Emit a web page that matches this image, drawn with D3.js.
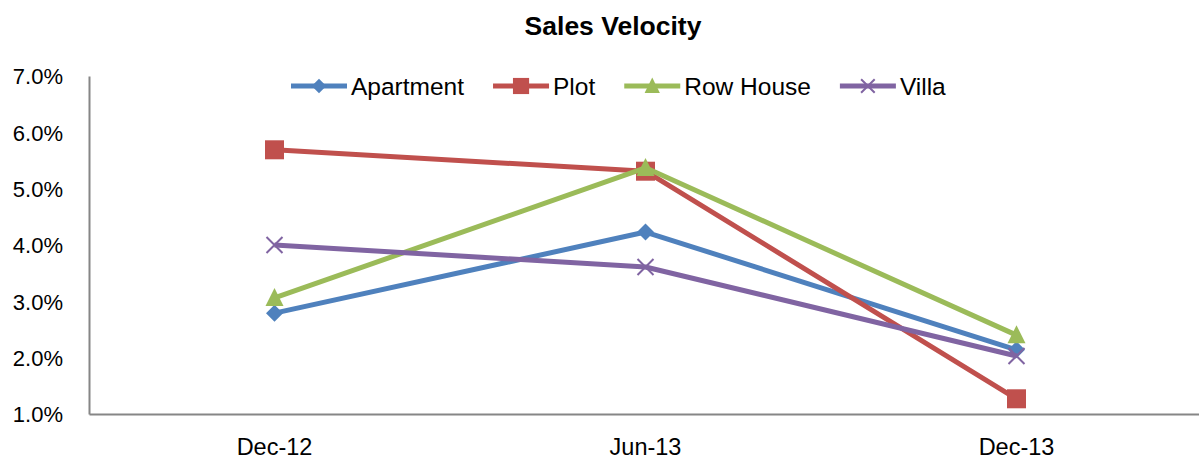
<!DOCTYPE html>
<html><head><meta charset="utf-8">
<script src="https://cdn.jsdelivr.net/npm/d3@7"></script>
<style>body{margin:0;background:#fff}svg{display:block}text{font-family:"Liberation Sans",Arial,sans-serif;fill:#000}</style>
</head><body><svg id="c" width="1199" height="461"></svg>
<script>
const categories = ["Dec-12", "Jun-13", "Dec-13"];
const apartment = [2.79, 4.23, 2.14];
const plot = [5.69, 5.31, 1.27];
const rowHouse = [3.06, 5.37, 2.40];
const villa = [4.00, 3.61, 2.03];
const seriesNames = ["Apartment", "Plot", "Row House", "Villa"];
const yTicks = [1, 2, 3, 4, 5, 6, 7];
const title = "Sales Velocity";

const series = [
  {name: seriesNames[0], values: apartment, color: "#4F81BD", marker: "diamond"},
  {name: seriesNames[1], values: plot, color: "#C0504D", marker: "square"},
  {name: seriesNames[2], values: rowHouse, color: "#9BBB59", marker: "triangle"},
  {name: seriesNames[3], values: villa, color: "#8064A2", marker: "x"}
];

const svg = d3.select("#c");
const x = d3.scaleBand().domain(categories).range([89, 1202]);
const y = d3.scaleLinear().domain([1, 7]).range([414, 76]);

svg.append("text").attr("x", 613).attr("y", 35).attr("text-anchor", "middle")
  .style("font-size", "26.5px").style("font-weight", "bold").text(title);

// axes
const gy = svg.append("g").attr("transform", "translate(89,0)")
  .call(d3.axisLeft(y).tickValues(yTicks).tickSize(0).tickPadding(26).tickFormat(d => d.toFixed(1) + "%"));
gy.select(".domain").attr("stroke", "#868686").attr("stroke-width", 2);
gy.selectAll("text").style("font-size", "22px").attr("dy", "0.35em");

const gx = svg.append("g").attr("transform", "translate(0,414)")
  .call(d3.axisBottom(x).tickSize(0).tickPadding(24));
gx.select(".domain").attr("stroke", "#868686").attr("stroke-width", 2);
gx.selectAll("text").style("font-size", "23.5px");

function drawMarker(g, type, color, cx, cy, s) {
  if (type === "diamond") {
    const h = 8.5*s;
    g.append("path").attr("d", `M${cx},${cy-h}L${cx+h},${cy}L${cx},${cy+h}L${cx-h},${cy}Z`).attr("fill", color);
  } else if (type === "square") {
    const h = 9.5*s;
    g.append("rect").attr("x", cx-h).attr("y", cy-h).attr("width", 2*h).attr("height", 2*h).attr("fill", color);
  } else if (type === "triangle") {
    const h = 9*s;
    g.append("path").attr("d", `M${cx},${cy-h*1.1}L${cx+h},${cy+h*0.9}L${cx-h},${cy+h*0.9}Z`).attr("fill", color);
  } else {
    const h = 8*s;
    g.append("path").attr("d", `M${cx-h},${cy-h}L${cx+h},${cy+h}M${cx-h},${cy+h}L${cx+h},${cy-h}`)
      .attr("stroke", color).attr("stroke-width", 2).attr("fill", "none");
  }
}

const line = d3.line().x((d, i) => x(categories[i]) + x.bandwidth()/2).y(d => y(d));
series.forEach(s => {
  const g = svg.append("g");
  g.append("path").datum(s.values).attr("d", line).attr("fill", "none")
    .attr("stroke", s.color).attr("stroke-width", 5).attr("stroke-linejoin", "round");
  s.values.forEach((v, i) => drawMarker(g, s.marker, s.color, x(categories[i]) + x.bandwidth()/2, y(v), 1));
});

// legend
let lx = 291;
const ly = 86;
series.forEach(s => {
  const g = svg.append("g");
  g.append("line").attr("x1", lx).attr("x2", lx + 56).attr("y1", ly).attr("y2", ly)
    .attr("stroke", s.color).attr("stroke-width", 5);
  drawMarker(g, s.marker, s.color, lx + 28, ly, 0.85);
  const t = g.append("text").attr("x", lx + 60).attr("y", ly).attr("dy", "0.35em")
    .style("font-size", "24.5px").text(s.name);
  lx += 60 + t.node().getComputedTextLength() + 29;
});
</script></body></html>
